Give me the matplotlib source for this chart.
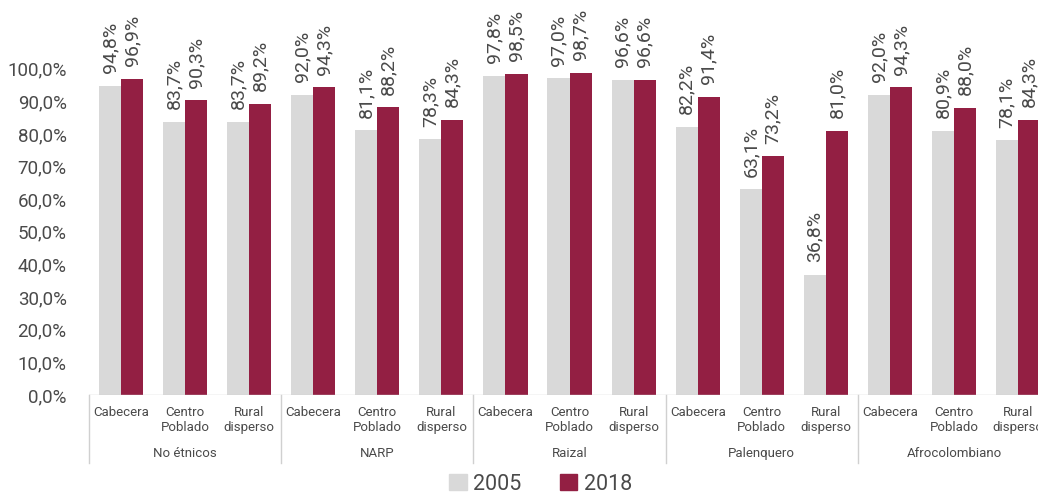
import matplotlib
matplotlib.use("Agg")
import matplotlib.pyplot as plt
import matplotlib.transforms as mtransforms
from matplotlib.lines import Line2D
from matplotlib.patches import Patch
import numpy as np

plt.rcParams["font.family"] = ["Roboto", "DejaVu Sans"]

grupos = ["No étnicos", "NARP", "Raizal", "Palenquero", "Afrocolombiano"]
zonas = ["Cabecera", "Centro\nPoblado", "Rural\ndisperso"]
v2005 = [94.8, 83.7, 83.7,
         92.0, 81.1, 78.3,
         97.8, 97.0, 96.6,
         82.2, 63.1, 36.8,
         92.0, 80.9, 78.1]
v2018 = [96.9, 90.3, 89.2,
         94.3, 88.2, 84.3,
         98.5, 98.7, 96.6,
         91.4, 73.2, 81.0,
         94.3, 88.0, 84.3]

gris = "#D9D9D9"
vino = "#931F43"
texto = "#4A4A4A"

fig = plt.figure(figsize=(10.38, 4.99), dpi=100)
ax = fig.add_axes([0.0857, 0.2084, 0.926, 0.7194])

x = np.arange(len(v2005))
w = 0.345
b1 = ax.bar(x - w / 2, v2005, w, color=gris, label="2005")
b2 = ax.bar(x + w / 2, v2018, w, color=vino, label="2018")

def fmt(v):
    return "{:.1f}%".format(v).replace(".", ",")

for bars, vals in ((b1, v2005), (b2, v2018)):
    for r, v in zip(bars, vals):
        ax.annotate(fmt(v), (r.get_x() + r.get_width() / 2, v),
                    xytext=(0, 9), textcoords="offset points",
                    rotation=90, ha="center", va="bottom",
                    fontsize=14, color=texto, clip_on=False)

ax.set_xlim(-0.5, len(x) - 0.5)
ax.set_ylim(0, 110)
ax.set_yticks(np.arange(0, 101, 10))
ax.set_yticklabels([fmt(t) for t in range(0, 101, 10)], fontsize=13.5,
                   color=texto)
ax.tick_params(axis="y", length=0, pad=16)
ax.set_xticks([])
for s in ax.spines.values():
    s.set_visible(False)
ax.axhline(0, color="#D0D0D0", lw=1)

# etiquetas de categoría en dos niveles
trans = mtransforms.blended_transform_factory(ax.transData, ax.transAxes)
for i in x:
    ax.text(i, -0.03, zonas[i % 3], transform=trans, ha="center", va="top",
            fontsize=9.5, color=texto, linespacing=1.2, clip_on=False)
for g, nombre in enumerate(grupos):
    ax.text(g * 3 + 1, -0.145, nombre, transform=trans, ha="center", va="top",
            fontsize=9.5, color=texto, clip_on=False)
for g in range(len(grupos) + 1):
    xs = g * 3 - 0.5
    ax.add_line(Line2D([xs, xs], [0, -0.19], transform=trans, color="#D0D0D0",
                       lw=1, clip_on=False))

fig.legend(handles=[Patch(color=gris, label="2005"), Patch(color=vino, label="2018")],
           loc="lower center", bbox_to_anchor=(0.521, -0.03), ncol=2, frameon=False,
           fontsize=15.5, handlelength=0.8, handleheight=0.8, handletextpad=0.3,
           columnspacing=1.8, labelcolor=texto)

fig.savefig("out.png", dpi=100)
